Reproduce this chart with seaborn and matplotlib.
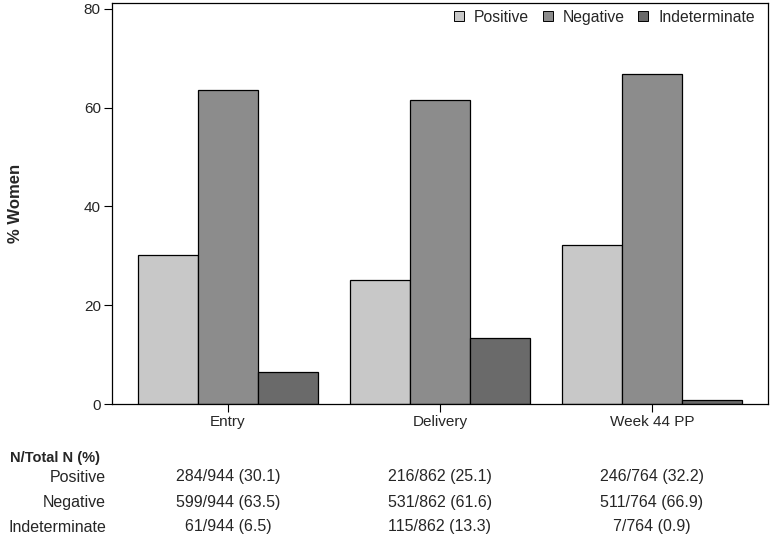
import matplotlib
matplotlib.use('Agg')

import pandas as pd
import matplotlib.pyplot as plt
import seaborn as sns

# --- Data ---
timepoints = ["Entry", "Delivery", "Week 44 PP"]
results = ["Positive", "Negative", "Indeterminate"]
pct_positive = [30.1, 25.1, 32.2]
pct_negative = [63.5, 61.6, 66.9]
pct_indeterminate = [6.5, 13.3, 0.9]
n_positive = ["284/944", "216/862", "246/764"]
n_negative = ["599/944", "531/862", "511/764"]
n_indeterminate = ["61/944", "115/862", "7/764"]

palette = ["#c8c8c8", "#8c8c8c", "#6a6a6a"]

rows = []
for res, pcts in zip(results, [pct_positive, pct_negative, pct_indeterminate]):
    for tp, p in zip(timepoints, pcts):
        rows.append({"Timepoint": tp, "Result": res, "Percent": p})
df = pd.DataFrame(rows)

sns.set_theme(style="white")
plt.rcParams['font.family'] = ['Liberation Sans', 'DejaVu Sans']

fig = plt.figure(figsize=(7.76, 5.41), dpi=100)
ax = fig.add_axes([0.1443, 0.2532, 0.8454, 0.7413])

sns.barplot(data=df, x="Timepoint", y="Percent", hue="Result",
            hue_order=results, palette=palette, saturation=1,
            width=0.85, edgecolor="black", linewidth=0.9, ax=ax)

ax.set_xlim(-0.547, 2.547)
ax.set_ylim(0, 81.2)
ax.set_yticks([0, 20, 40, 60, 80])
ax.set_xlabel("")
ax.set_ylabel("% Women", fontsize=12, fontweight="bold")
ax.yaxis.set_label_coords(-0.136, 0.5)
ax.tick_params(axis="both", which="both", length=5.5, width=0.8, color="black",
               labelsize=11, pad=2.5, direction="out", left=True, bottom=True)
for s in ax.spines.values():
    s.set_color("black")
    s.set_linewidth(0.9)

# legend with square markers
handles = [plt.Line2D([], [], marker="s", linestyle="", markersize=7.5,
                      markerfacecolor=c, markeredgecolor="black", markeredgewidth=0.7)
           for c in palette]
ax.legend(handles, results, loc="upper right", ncol=3, frameon=False,
          fontsize=11.3, handlelength=0.8, handletextpad=0.55, columnspacing=0.8,
          borderaxespad=0.1, bbox_to_anchor=(0.992, 1.003))

# --- Table below the plot ---
def fy(py):
    return 1 - py / 541

fig.text(10 / 776, fy(458), "N/Total N (%)", fontsize=10.5, fontweight="bold",
         ha="left", va="center")
table_rows = [
    ("Positive", n_positive, pct_positive),
    ("Negative", n_negative, pct_negative),
    ("Indeterminate", n_indeterminate, pct_indeterminate),
]
row_y = [477, 502, 527]
for (label, ns, pcts), py in zip(table_rows, row_y):
    fig.text(106 / 776, fy(py), label, fontsize=11.5, ha="right", va="center")
    for i, (n, p) in enumerate(zip(ns, pcts)):
        xd = ax.transData.transform((i, 0))[0]
        xf = fig.transFigure.inverted().transform((xd, 0))[0]
        fig.text(xf, fy(py), f"{n} ({p})", fontsize=11.5, ha="center", va="center")

plt.savefig("out.png", dpi=100)
